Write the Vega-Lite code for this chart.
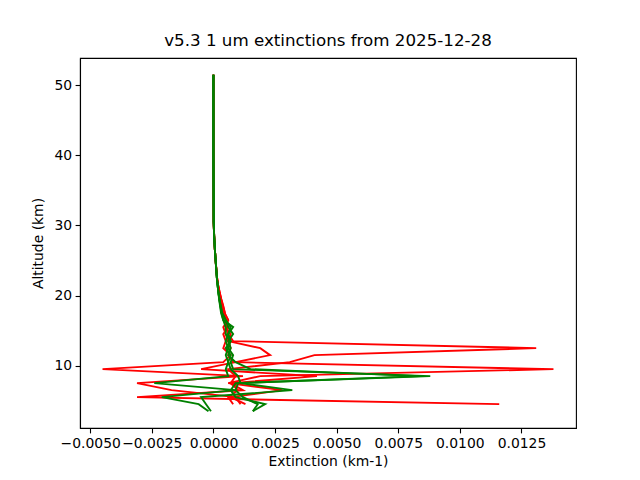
{
  "$schema": "https://vega.github.io/schema/vega-lite/v6.json",
  "autosize": {"type": "none"},
  "width": 496,
  "height": 370,
  "padding": {"left": 80, "top": 58, "right": 64, "bottom": 52},
  "background": "white",
  "config": {
    "font": "DejaVu Sans",
    "view": {"stroke": "black", "strokeWidth": 1.1},
    "axis": {
      "grid": false,
      "domainColor": "black",
      "domainWidth": 1.1,
      "tickColor": "black",
      "tickWidth": 1.1,
      "tickSize": 4.9,
      "labelPadding": 3.5,
      "labelFont": "DejaVu Sans",
      "labelFontSize": 13.9,
      "labelColor": "black",
      "titleFont": "DejaVu Sans",
      "titleFontSize": 13.9,
      "titleFontWeight": "normal",
      "titleColor": "black"
    }
  },
  "title": {
    "text": "v5.3 1 um extinctions from 2025-12-28",
    "font": "DejaVu Sans",
    "fontSize": 16.7,
    "fontWeight": "normal",
    "color": "black",
    "anchor": "middle",
    "frame": "group",
    "offset": 8
  },
  "data": {
    "values": [
      {"a": 51.5, "r1": 0, "r2": 0, "r3": 0, "r4": 0, "g1": 0, "g2": 0, "g3": 0, "g4": 0},
      {"a": 45.5, "r1": 0, "r2": 0, "r3": 0, "r4": 0, "g1": 0, "g2": 0, "g3": 0, "g4": 0},
      {"a": 40.5, "r1": 0, "r2": 0, "r3": 0, "r4": 0, "g1": 0, "g2": 0, "g3": 0, "g4": 0},
      {"a": 35.5, "r1": 0.000005, "r2": 0.000005, "r3": 0.000005, "r4": 0.000005, "g1": 0.000005, "g2": 0.000005, "g3": 0.000005, "g4": 0.000005},
      {"a": 30.5, "r1": 0.00001, "r2": 0.00001, "r3": 0.00001, "r4": 0.00001, "g1": 0.00001, "g2": 0.00001, "g3": 0.00001, "g4": 0.00001},
      {"a": 28.5, "r1": 0.00003, "r2": 0.00003, "r3": 0.00003, "r4": 0.00003, "g1": 0.00003, "g2": 0.00003, "g3": 0.00003, "g4": 0.00003},
      {"a": 26.5, "r1": 0.00006, "r2": 0.00006, "r3": 0.00006, "r4": 0.00006, "g1": 0.00006, "g2": 0.00006, "g3": 0.00006, "g4": 0.00006},
      {"a": 24.5, "r1": 0.0001, "r2": 0.0001, "r3": 0.0001, "r4": 0.0001, "g1": 0.0001, "g2": 0.0001, "g3": 0.0001, "g4": 0.0001},
      {"a": 22.5, "r1": 0.00015, "r2": 0.00015, "r3": 0.00014, "r4": 0.00015, "g1": 0.00014, "g2": 0.00014, "g3": 0.00014, "g4": 0.00014},
      {"a": 21.5, "r1": 0.00019, "r2": 0.00018, "r3": 0.00018, "r4": 0.00019, "g1": 0.00017, "g2": 0.00017, "g3": 0.00017, "g4": 0.00017},
      {"a": 20.5, "r1": 0.00025, "r2": 0.00024, "r3": 0.00023, "r4": 0.00025, "g1": 0.0002, "g2": 0.0002, "g3": 0.0002, "g4": 0.0002},
      {"a": 19.5, "r1": 0.00032, "r2": 0.0003, "r3": 0.00029, "r4": 0.00031, "g1": 0.00024, "g2": 0.00025, "g3": 0.00023, "g4": 0.00024},
      {"a": 18.5, "r1": 0.0004, "r2": 0.00037, "r3": 0.00036, "r4": 0.00039, "g1": 0.00028, "g2": 0.0003, "g3": 0.00027, "g4": 0.00029},
      {"a": 17.5, "r1": 0.00047, "r2": 0.00044, "r3": 0.00042, "r4": 0.00046, "g1": 0.00033, "g2": 0.00036, "g3": 0.00031, "g4": 0.00035},
      {"a": 16.5, "r1": 0.0005, "r2": 0.0006, "r3": 0.0005, "r4": 0.0006, "g1": 0.0004, "g2": 0.0005, "g3": 0.0004, "g4": 0.0005},
      {"a": 15.5, "r1": 0.0005, "r2": 0.0004, "r3": 0.0006, "r4": 0.0005, "g1": 0.0008, "g2": 0.0006, "g3": 0.0005, "g4": 0.0007},
      {"a": 14.5, "r1": 0.0006, "r2": 0.0005, "r3": 0.0004, "r4": 0.0007, "g1": 0.0006, "g2": 0.0008, "g3": 0.0005, "g4": 0.0006},
      {"a": 13.5, "r1": 0.0008, "r2": 0.0006, "r3": 0.0005, "r4": 0.0006, "g1": 0.0007, "g2": 0.0006, "g3": 0.0007, "g4": 0.0005},
      {"a": 12.5, "r1": 0.0131, "r2": 0.0007, "r3": 0.0004, "r4": 0.0019, "g1": 0.0006, "g2": 0.0007, "g3": 0.0005, "g4": 0.0006},
      {"a": 11.5, "r1": 0.0041, "r2": 0.0006, "r3": 0.0007, "r4": 0.0023, "g1": 0.0008, "g2": 0.0006, "g3": 0.0007, "g4": 0.0005},
      {"a": 10.5, "r1": 0.0031, "r2": 0.0008, "r3": 0.0004, "r4": 0.0009, "g1": 0.0007, "g2": 0.0009, "g3": 0.0006, "g4": 0.0006},
      {"a": 9.5, "r1": 0.0006, "r2": 0.0138, "r3": -0.0045, "r4": -0.0005, "g1": 0.0008, "g2": 0.0015, "g3": 0.0007, "g4": 0.0005},
      {"a": 8.5, "r1": 0.0009, "r2": 0.0019, "r3": 0.0012, "r4": 0.0042, "g1": 0.0088, "g2": 0.0084, "g3": 0.001, "g4": 0.0006},
      {"a": 7.5, "r1": 0.0007, "r2": 0.0006, "r3": -0.0031, "r4": 0.0007, "g1": 0.0009, "g2": 0.001, "g3": 0.0011, "g4": -0.0024},
      {"a": 6.5, "r1": 0.0012, "r2": 0.0028, "r3": -0.0017, "r4": 0.001, "g1": 0.0007, "g2": 0.0009, "g3": 0.0032, "g4": 0.0009},
      {"a": 5.5, "r1": -0.0031, "r2": 0.0007, "r3": 0.0009, "r4": 0.0006, "g1": 0.0009, "g2": 0.0012, "g3": -0.0005, "g4": -0.0021},
      {"a": 4.5, "r1": 0.0116, "r2": 0.0013, "r3": 0.0011, "r4": 0.0008, "g1": 0.0021, "g2": 0.0018, "g3": -0.0003, "g4": -0.0006},
      {"a": 3.5, "r1": null, "r2": null, "r3": null, "r4": null, "g1": 0.0016, "g2": 0.0016, "g3": -0.0001, "g4": -0.0002}
    ]
  },
  "transform": [
    {"fold": ["r1", "r2", "r3", "r4", "g1", "g2", "g3", "g4"], "as": ["profile", "ext"]},
    {"filter": "datum.ext != null"}
  ],
  "mark": {"type": "line", "strokeWidth": 1.9, "clip": true},
  "encoding": {
    "x": {
      "field": "ext",
      "type": "quantitative",
      "title": "Extinction (km-1)",
      "scale": {"domain": [-0.005415, 0.014715], "nice": false, "zero": false},
      "axis": {
        "values": [-0.005, -0.0025, 0, 0.0025, 0.005, 0.0075, 0.01, 0.0125],
        "labelExpr": "replace(format(datum.value, '.4f'), '-', '\u2212')",
        "titlePadding": 4
      }
    },
    "y": {
      "field": "a",
      "type": "quantitative",
      "title": "Altitude (km)",
      "scale": {"domain": [1.1, 53.9], "nice": false, "zero": false},
      "axis": {"values": [10, 20, 30, 40, 50], "titlePadding": 8}
    },
    "color": {
      "field": "profile",
      "type": "nominal",
      "scale": {
        "domain": ["r1", "r2", "r3", "r4", "g1", "g2", "g3", "g4"],
        "range": ["#ff0000", "#ff0000", "#ff0000", "#ff0000", "#008000", "#008000", "#008000", "#008000"]
      },
      "legend": null
    },
    "order": {"field": "a", "type": "quantitative", "sort": "descending"}
  }
}
